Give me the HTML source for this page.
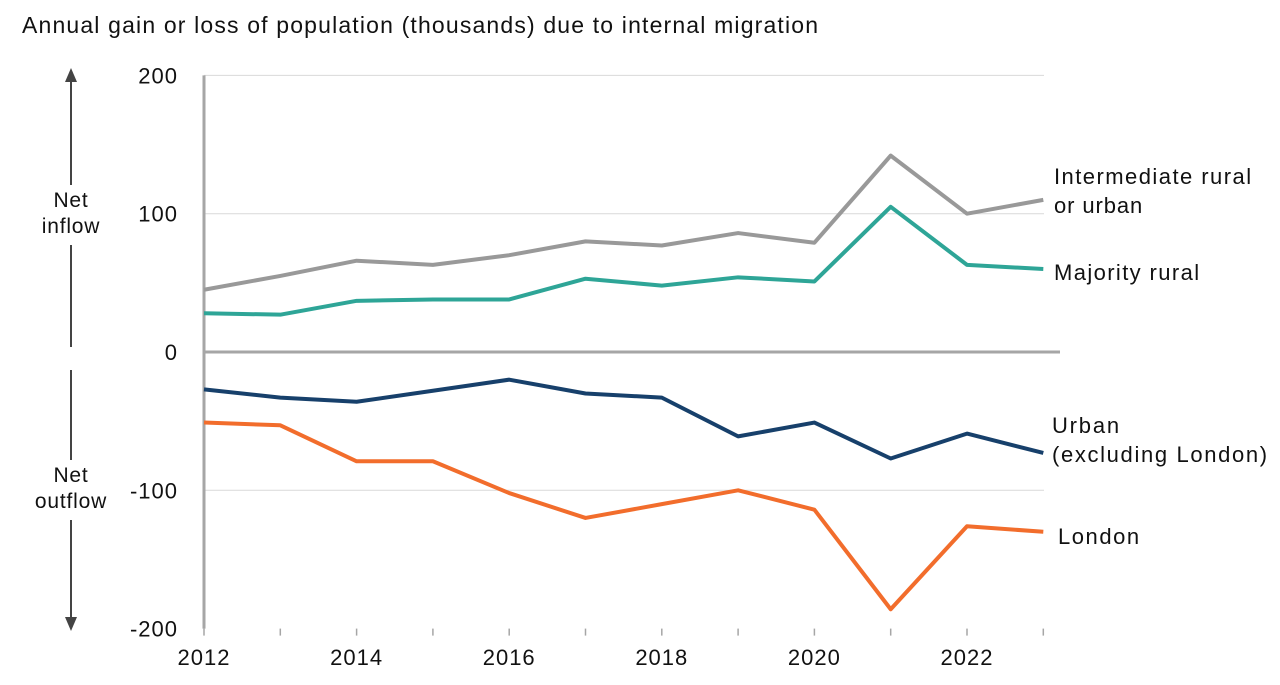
<!DOCTYPE html>
<html><head><meta charset="utf-8"><style>
body{margin:0;background:#fff;font-family:"Liberation Sans",Arial,sans-serif}
svg text{font-family:"Liberation Sans",Arial,sans-serif;fill:#111}
</style></head><body>
<svg id="chart" width="1280" height="680">
<text x="22" y="33" font-size="23" textLength="796" lengthAdjust="spacing">Annual gain or loss of population (thousands) due to internal migration</text>
<g id="grid"></g><g id="axes"></g><g id="series"></g>
<g>
<line x1="71" y1="80" x2="71" y2="185" stroke="#444" stroke-width="2"/>
<polygon points="71,68 65,82 77,82" fill="#444"/>
<line x1="71" y1="245" x2="71" y2="347" stroke="#444" stroke-width="2"/>
<text x="71" y="207" font-size="21" letter-spacing="0.8" text-anchor="middle">Net</text>
<text x="71" y="233" font-size="21" letter-spacing="0.8" text-anchor="middle">inflow</text>
<line x1="71" y1="370" x2="71" y2="460" stroke="#444" stroke-width="2"/>
<text x="71" y="482" font-size="21" letter-spacing="0.8" text-anchor="middle">Net</text>
<text x="71" y="508" font-size="21" letter-spacing="0.8" text-anchor="middle">outflow</text>
<line x1="71" y1="520" x2="71" y2="617" stroke="#444" stroke-width="2"/>
<polygon points="71,631 65,617 77,617" fill="#444"/>
</g>
</svg>
<script>
const years=[2012,2013,2014,2015,2016,2017,2018,2019,2020,2021,2022,2023];
const intermediate=[45,55,66,63,70,80,77,86,79,142,100,110];
const majorityRural=[28,27,37,38,38,53,48,54,51,105,63,60];
const urban=[-27,-33,-36,-28,-20,-30,-33,-61,-51,-77,-59,-73];
const london=[-51,-53,-79,-79,-102,-120,-110,-100,-114,-186,-126,-130];
const yTicks=[200,100,0,-100,-200];
const xTickLabels=[2012,2014,2016,2018,2020,2022];
const NS="http://www.w3.org/2000/svg";
const x=v=>204+(v-2012)*76.3;
const y=v=>352-v*1.383;
function mk(t,a,p){const e=document.createElementNS(NS,t);for(const k in a)e.setAttribute(k,a[k]);p.appendChild(e);return e;}
const grid=document.getElementById('grid'),axes=document.getElementById('axes'),ser=document.getElementById('series');
yTicks.forEach(t=>{
 if(t!==0&&t!==-200){const l=mk('line',{x1:204,x2:1044,y1:y(t),y2:y(t),stroke:'#d9d9d9','stroke-width':1},grid);
 
 }
 const tx=mk('text',{x:178,y:y(t)+8,'font-size':22,'letter-spacing':1,'text-anchor':'end'},axes);tx.textContent=t;
 
 
});
const yl=mk('line',{x1:204,x2:204,y1:y(200),y2:y(-200),stroke:'#a6a6a6','stroke-width':3},axes);


const zl=mk('line',{x1:204,x2:1060,y1:y(0),y2:y(0),stroke:'#a6a6a6','stroke-width':3},axes);


years.forEach(yr=>{mk('line',{x1:x(yr),x2:x(yr),y1:y(-200),y2:y(-200)+7,stroke:'#a6a6a6','stroke-width':1.5},axes);});
xTickLabels.forEach(yr=>{const t=mk('text',{x:x(yr),y:665,'font-size':22,'letter-spacing':1,'text-anchor':'middle'},axes);t.textContent=yr;
 
 });
const series=[[intermediate,'#999999','intermediate-line',['Intermediate rural','or urban'],[198,0],1054,184],
[majorityRural,'#2ea597','majority-rural-line',['Majority rural'],[146],1054,280],
[urban,'#17406b','urban-line',['Urban','(excluding London)'],[68,216],1052,433],
[london,'#f26d2c','london-line',['London'],[82],1058,544]];
series.forEach(([d,c,n,lab,wd,lx,ly])=>{
 const p=mk('polyline',{points:d.map((v,i)=>x(years[i])+','+y(v)).join(' '),fill:'none',stroke:c,'stroke-width':4,'stroke-linejoin':'round'},ser);
 
 
 lab.forEach((s,i)=>{const a={x:lx,y:ly+i*29,'font-size':22,'letter-spacing':0.9};
 if(wd[i]){a.textLength=wd[i];a.lengthAdjust='spacing';}
 const t=mk('text',a,ser);t.textContent=s;
 
 });
});
</script>
</body></html>
